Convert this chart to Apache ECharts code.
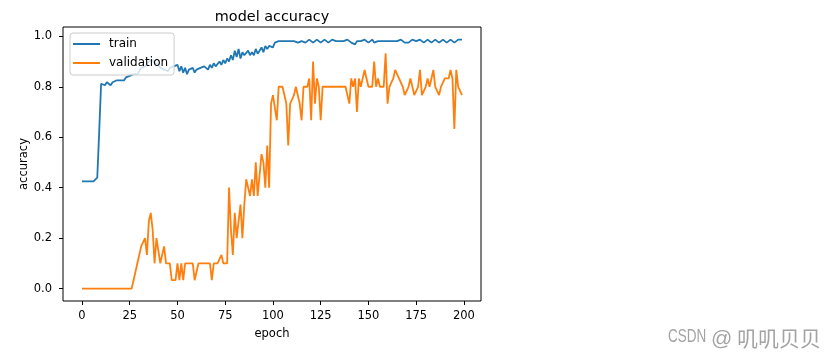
<!DOCTYPE html>
<html>
<head>
<meta charset="utf-8">
<script src="https://cdn.jsdelivr.net/npm/echarts@6/dist/echarts.min.js"></script>
<style>
html,body{margin:0;padding:0;background:#fff;}
#c{width:834px;height:358px;}
</style>
</head>
<body>
<div id="c"></div>
<script>
// ---- data ----
const titleText = 'model accuracy';
const xName = 'epoch';
const yName = 'accuracy';
const seriesNames = ['train', 'validation'];
const xTicks = [0, 25, 50, 75, 100, 125, 150, 175, 200];
const yTicks = [0.0, 0.2, 0.4, 0.6, 0.8, 1.0];
const watermarkParts = ['CSDN', '@', '叽叽贝贝'];

const train = [
  0.425, 0.425, 0.425, 0.425, 0.425, 0.425, 0.425, 0.425, 0.44, 0.62,
  0.812, 0.818, 0.806, 0.818, 0.812, 0.806, 0.818, 0.812, 0.825, 0.818,
  0.825, 0.831, 0.825, 0.837, 0.831, 0.843, 0.837, 0.85, 0.856, 0.85,
  0.862, 0.875, 0.868, 0.881, 0.887, 0.9, 0.893, 0.906, 0.893, 0.9,
  0.887, 0.875, 0.881, 0.868, 0.875, 0.862, 0.875, 0.868, 0.881, 0.875,
  0.887, 0.862, 0.881, 0.856, 0.875, 0.85, 0.868, 0.862, 0.875, 0.856,
  0.868, 0.862, 0.875, 0.868, 0.881, 0.875, 0.868, 0.887, 0.875, 0.893,
  0.881, 0.887, 0.9, 0.887, 0.906, 0.893, 0.912, 0.9, 0.925, 0.906,
  0.943, 0.918, 0.95, 0.912, 0.937, 0.925, 0.918, 0.943, 0.925, 0.937,
  0.925, 0.95, 0.931, 0.943, 0.956, 0.937, 0.962, 0.95, 0.962, 0.968,
  0.956, 0.975, 0.981, 0.981, 0.987, 0.981,
  0.975, 0.981, 0.987, 0.981, 0.975, 0.981, 0.987, 0.975, 0.981, 0.981,
  0.987, 0.975, 0.981, 0.987, 0.981, 0.975, 0.981, 0.987, 0.981, 0.975,
  0.981, 0.987, 0.981, 0.975, 0.981, 0.987, 0.981, 0.981, 0.987, 0.981,
  0.981, 0.981, 0.981, 0.987, 0.981, 0.975, 0.981, 0.968, 0.981, 0.987,
  0.981, 0.975, 0.987, 0.981, 0.975, 0.981, 0.987, 0.975, 0.968, 0.981,
  0.987, 0.981, 0.975, 0.981, 0.987, 0.981, 0.975, 0.981, 0.987, 0.981,
  0.981, 0.987, 0.981, 0.975, 0.981, 0.975, 0.981, 0.987, 0.981, 0.981,
  0.981, 0.987, 0.981, 0.975, 0.981, 0.987, 0.981, 0.975, 0.981, 0.987,
  0.981, 0.975, 0.981, 0.987, 0.981, 0.975, 0.981, 0.987, 0.981, 0.975,
  0.981, 0.987, 0.981, 0.987
];

const validation = [
  0, 0, 0, 0, 0, 0, 0, 0, 0, 0,
  0, 0, 0, 0, 0, 0, 0, 0, 0, 0,
  0, 0, 0, 0, 0, 0, 0, 0.033, 0.033, 0.1,
  0.133, 0.167, 0.167, 0.2, 0.133, 0.267, 0.3, 0.233, 0.1, 0.2,
  0.2, 0.1, 0.1, 0.167, 0.1, 0.1, 0.1, 0.033, 0.033, 0.033,
  0.1, 0.033, 0.1, 0.033, 0.1, 0.1, 0.1, 0.1, 0.1, 0.033,
  0.033, 0.1, 0.1, 0.1, 0.1, 0.1, 0.1, 0.1, 0.033, 0.1,
  0.1, 0.1, 0.1, 0.133, 0.1, 0.1, 0.1, 0.4, 0.233, 0.133,
  0.3, 0.2, 0.267, 0.333, 0.2, 0.333, 0.433, 0.433, 0.367, 0.433,
  0.367, 0.5, 0.367, 0.367, 0.533, 0.5, 0.4, 0.567, 0.4, 0.733,
  0.767, 0.767, 0.667, 0.8, 0.8, 0.8, 0.8, 0.733, 0.567, 0.733,
  0.733, 0.767, 0.8, 0.767, 0.733, 0.667, 0.8, 0.8, 0.8, 0.833,
  0.667, 0.9, 0.733, 0.833, 0.8, 0.667, 0.8, 0.8, 0.8, 0.8,
  0.8, 0.8, 0.8, 0.8, 0.8, 0.8, 0.8, 0.8, 0.8, 0.8,
  0.733, 0.833, 0.8, 0.833, 0.7, 0.833, 0.8, 0.833, 0.867, 0.833,
  0.8, 0.8, 0.8, 0.9, 0.8, 0.833, 0.8, 0.8, 0.8, 0.933,
  0.733, 0.8, 0.8, 0.833, 0.867, 0.867, 0.833, 0.833, 0.8, 0.767,
  0.767, 0.8, 0.833, 0.8, 0.767, 0.767, 0.8, 0.867, 0.767, 0.767,
  0.8, 0.833, 0.8, 0.833, 0.867, 0.8, 0.8, 0.767, 0.8, 0.8,
  0.833, 0.833, 0.833, 0.867, 0.833, 0.633, 0.867, 0.8, 0.8, 0.767
];

// ---- chart ----
const FONT = '"DejaVu Sans", sans-serif';
const toPairs = arr => arr.map((v, i) => [i, v]);

const chart = echarts.init(document.getElementById('c'), null, { renderer: 'canvas' });
chart.setOption({
  animation: false,
  backgroundColor: '#ffffff',
  title: {
    text: titleText,
    left: 272,
    top: 10,
    textAlign: 'center',
    padding: 0,
    textStyle: { fontFamily: FONT, fontSize: 14.4, fontWeight: 'normal', color: '#000' }
  },
  legend: {
    data: seriesNames,
    orient: 'vertical',
    left: 70,
    top: 33,
    padding: [5, 6, 6, 3],
    itemGap: 7,
    itemWidth: 27,
    itemHeight: 2,
    icon: 'rect',
    backgroundColor: 'rgba(255,255,255,0.8)',
    borderColor: '#cccccc',
    borderWidth: 1,
    borderRadius: 3,
    textStyle: { fontFamily: FONT, fontSize: 12, color: '#000', padding: [0, 0, 0, 4] }
  },
  grid: {
    left: 63, right: 353, top: 27, bottom: 57,
    show: true, borderColor: '#000', borderWidth: 1,
    backgroundColor: 'transparent',
    containLabel: false,
    outerBoundsMode: 'none'
  },
  xAxis: {
    type: 'value',
    min: -9.95,
    max: 208.95,
    name: xName,
    nameLocation: 'middle',
    nameGap: 27,
    nameMoveOverlap: false,
    nameTextStyle: { fontFamily: FONT, fontSize: 11.5, color: '#000' },
    axisLine: { show: false, onZero: false },
    splitLine: { show: false },
    axisTick: { show: true, inside: false, length: 4, customValues: xTicks, lineStyle: { color: '#000', width: 1 } },
    axisLabel: { customValues: xTicks, margin: 9, fontFamily: FONT, fontSize: 11.5, color: '#000' }
  },
  yAxis: {
    type: 'value',
    min: -0.0494,
    max: 1.0369,
    name: yName,
    nameLocation: 'middle',
    nameRotate: 90,
    nameGap: 33,
    nameMoveOverlap: false,
    nameTextStyle: { fontFamily: FONT, fontSize: 11.5, color: '#000' },
    axisLine: { show: false, onZero: false },
    splitLine: { show: false },
    axisTick: { show: true, inside: false, length: 4, customValues: yTicks, lineStyle: { color: '#000', width: 1 } },
    axisLabel: { customValues: yTicks, margin: 11, fontFamily: FONT, fontSize: 11.5, color: '#000',
      formatter: v => Number(v).toFixed(1) }
  },
  series: [
    {
      name: seriesNames[0], type: 'line', data: toPairs(train),
      symbol: 'none', showSymbol: false, z: 2,
      itemStyle: { color: '#1f77b4' },
      lineStyle: { color: '#1f77b4', width: 1.8 }
    },
    {
      name: seriesNames[1], type: 'line', data: toPairs(validation),
      symbol: 'none', showSymbol: false, z: 3,
      itemStyle: { color: '#ff7f0e' },
      lineStyle: { color: '#ff7f0e', width: 1.8 }
    }
  ],
  graphic: [
    { type: 'text', x: 668, y: 328, scaleX: 0.75, z: 10,
      style: { x: 0, y: 0, text: watermarkParts[0], textVerticalAlign: 'top', verticalAlign: 'top',
        font: '18px "Liberation Sans", sans-serif', fill: '#a3a3a3' } },
    { type: 'text', left: 711, top: 329, z: 10,
      style: { text: watermarkParts[1], font: '21px "Liberation Sans", sans-serif', fill: '#a3a3a3' } },
    { type: 'text', left: 737, top: 328, z: 10,
      style: { text: watermarkParts[2], font: '21px "Noto Sans CJK SC", sans-serif', fill: '#a3a3a3' } }
  ]
});
</script>
</body>
</html>
